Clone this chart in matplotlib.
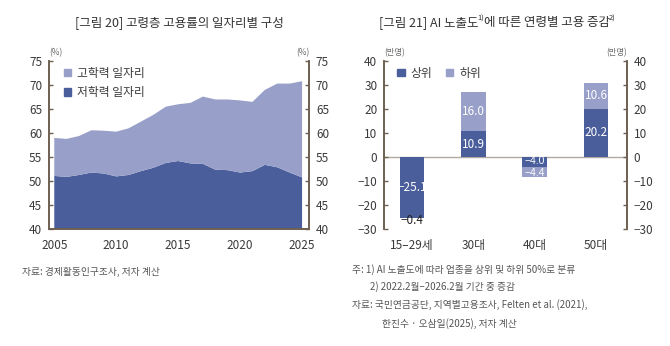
import numpy as np
import matplotlib
matplotlib.use("Agg")
import matplotlib.pyplot as plt
from matplotlib.patches import Patch

plt.rcParams["font.family"] = ["Noto Sans CJK KR", "DejaVu Sans"]

# ---- data: figure 20 (employment rate of older workers by job type, %)
years = list(range(2005, 2026))
low_edu = [51.1, 50.9, 51.3, 51.8, 51.6, 51.0, 51.3, 52.1, 52.8, 53.8, 54.2,
           53.7, 53.6, 52.4, 52.3, 51.8, 52.1, 53.4, 52.9, 51.8, 50.8]
high_edu = [7.9, 7.9, 8.1, 8.8, 8.9, 9.3, 9.7, 10.3, 11.0, 11.7, 11.8,
            12.6, 14.0, 14.6, 14.7, 15.0, 14.4, 15.6, 17.4, 18.5, 20.0]

# ---- data: figure 21 (employment change by age group, 10k persons)
age_groups = ["15–29세", "30대", "40대", "50대"]
upper_half = [-25.1, 10.9, -4.0, 20.2]
lower_half = [-0.4, 16.0, -4.4, 10.6]

dark = "#4a5e9b"
light = "#989fc8"
spine_c = "#6e6050"
txt_c = "#3a3a3a"

fig = plt.figure(figsize=(6.7, 3.46), dpi=100)

# ---------------- left chart
ax1 = fig.add_axes([0.0736, 0.3373, 0.3876, 0.4864])
ax1.stackplot(years, low_edu, high_edu, colors=[dark, light], linewidth=0)
ax1.set_xlim(2004.6, 2025.56)
ax1.set_ylim(40, 75)
ax1.set_yticks(range(40, 80, 5))
ax1.set_xticks([2005, 2010, 2015, 2020, 2025])
ax1r = ax1.twinx()
ax1r.set_ylim(40, 75)
ax1r.set_yticks(range(40, 80, 5))

for a in (ax1, ax1r):
    a.spines["top"].set_visible(False)
    for s in ("left", "right", "bottom"):
        a.spines[s].set_color(spine_c)
        a.spines[s].set_linewidth(1.2)
    a.tick_params(axis="y", direction="in", length=3, width=1, color=spine_c,
                  labelsize=8.5, labelcolor=txt_c, pad=5)
ax1.tick_params(axis="x", length=0, labelsize=8.5, labelcolor=txt_c, pad=7)

ax1.text(0.0, 1.025, "(%)", transform=ax1.transAxes, fontsize=6, color="#666", ha="left", va="bottom")
ax1.text(1.0, 1.025, "(%)", transform=ax1.transAxes, fontsize=6, color="#666", ha="right", va="bottom")
ax1.legend(handles=[Patch(color=light, label="고학력 일자리"), Patch(color=dark, label="저학력 일자리")],
           loc="upper left", bbox_to_anchor=(0.035, 1.0), borderaxespad=0.1, frameon=False,
           fontsize=8.5, handlelength=0.6, handleheight=0.6, handletextpad=0.5,
           labelspacing=0.55, labelcolor=txt_c)

fig.text(0.267, 0.935, "[그림 20] 고령층 고용률의 일자리별 구성", ha="center", va="center",
         fontsize=9, color="#333")
fig.text(0.033, 0.215, "자료: 경제활동인구조사, 저자 계산", ha="left", va="center",
         fontsize=7, color="#555")

# ---------------- right chart
ax2 = fig.add_axes([0.5736, 0.3373, 0.3618, 0.4864])
x = np.arange(len(age_groups))
w = 0.4
ax2.axhline(0, color="#b0aaa0", linewidth=1.0, zorder=1)
ax2.bar(x, upper_half, width=w, color=dark, zorder=2, label="상위")
ax2.bar(x, lower_half, width=w, bottom=upper_half, color=light, zorder=2, label="하위")
ax2.set_xlim(-0.45, 3.5)
ax2.set_ylim(-30, 40)
ax2.set_yticks(range(-30, 50, 10))
ax2.set_xticks(x)
ax2.set_xticklabels(age_groups)
ax2r = ax2.twinx()
ax2r.set_ylim(-30, 40)
ax2r.set_yticks(range(-30, 50, 10))

for a in (ax2, ax2r):
    for s in ("top", "bottom"):
        a.spines[s].set_visible(False)
    for s in ("left", "right"):
        a.spines[s].set_color(spine_c)
        a.spines[s].set_linewidth(1.2)
    a.tick_params(axis="y", direction="in", length=3, width=1, color=spine_c,
                  labelsize=8.5, labelcolor=txt_c, pad=5)
ax2.tick_params(axis="x", length=0, labelsize=8.5, labelcolor=txt_c, pad=7)


def fmt(v):
    return f"{v:.1f}".replace("-", "−")


for i in range(len(age_groups)):
    u, l = upper_half[i], lower_half[i]
    small = abs(u) < 5 and abs(l) < 5
    fs = 7.5 if small else 8.5
    fam = ["Liberation Sans"] if small else None
    # nudge the two thin segment labels apart a little
    yu = u / 2 + (0.5 if small else 0)
    ax2.text(i, yu, fmt(u), ha="center", va="center", color="white",
             fontsize=fs, family=fam, zorder=3)
    if abs(l) < 1:
        ax2.text(i, u + l - 1.0, fmt(l), ha="center", va="center",
                 color="#222", fontsize=8.5, zorder=3)
    else:
        yl = u + l / 2 - (0.5 if small else 0)
        ax2.text(i, yl, fmt(l), ha="center", va="center", color="white",
                 fontsize=fs, family=fam, zorder=3)

ax2.text(0.0, 1.025, "(만명)", transform=ax2.transAxes, fontsize=6, color="#666", ha="left", va="bottom")
ax2.text(1.0, 1.025, "(만명)", transform=ax2.transAxes, fontsize=6, color="#666", ha="right", va="bottom")
ax2.legend(handles=[Patch(color=dark, label="상위"), Patch(color=light, label="하위")],
           loc="upper left", bbox_to_anchor=(0.03, 1.0), borderaxespad=0.1, frameon=False,
           fontsize=8.5, ncol=2, handlelength=0.6, handleheight=0.6, handletextpad=0.5,
           columnspacing=1.2, labelcolor=txt_c)

# title with superscripts
t0 = fig.text(0.566, 0.935, "[그림 21] AI 노출도", ha="left", va="center", fontsize=9, color="#333")
t1 = fig.text(0, 0, "1)", fontsize=5.5, color="#333")
t2 = fig.text(0, 0, "에 따른 연령별 고용 증감", fontsize=9, color="#333")
t3 = fig.text(0, 0, "2)", fontsize=5.5, color="#333")
fig.canvas.draw()
r = fig.canvas.get_renderer()
inv = fig.transFigure.inverted()
b0 = inv.transform(t0.get_window_extent(r))
t1.set_position((b0[1][0] - 0.002, 0.946)); t1.set_va("center")
b1 = inv.transform(t1.get_window_extent(r))
t2.set_position((b1[1][0] - 0.001, 0.935)); t2.set_va("center")
b2 = inv.transform(t2.get_window_extent(r))
t3.set_position((b2[1][0] - 0.001, 0.946)); t3.set_va("center")

notes = [
    (0.525, 0.220, "주: 1) AI 노출도에 따라 업종을 상위 및 하위 50%로 분류"),
    (0.552, 0.171, "2) 2022.2월–2026.2월 기간 중 증감"),
    (0.525, 0.120, "자료: 국민연금공단, 지역별고용조사, Felten et al. (2021),"),
    (0.570, 0.066, "한진수 · 오삼일(2025), 저자 계산"),
]
for nx, ny, s in notes:
    fig.text(nx, ny, s, ha="left", va="center", fontsize=7, color="#555")

fig.savefig("out.png", dpi=100)
plt.close(fig)
